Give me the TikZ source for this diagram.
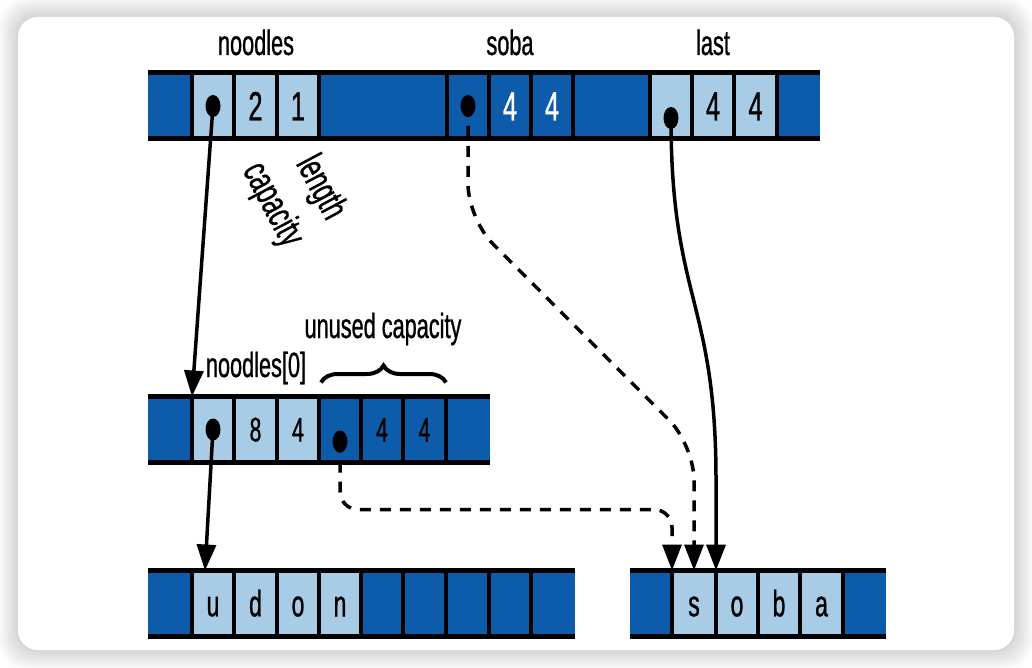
\documentclass[tikz,border=0pt]{standalone}
\usepackage{fontspec}
\setmainfont[FakeStretch=0.62,FakeBold=0.8]{Liberation Sans}
\usepackage{tikz}
\usetikzlibrary{arrows.meta,positioning,calc,shapes.geometric,decorations.pathreplacing}
\definecolor{dkblue}{RGB}{13,91,171}
\definecolor{ltblue}{RGB}{168,203,230}
\tikzset{
  cell/.style={minimum height=66pt, inner sep=0pt, outer sep=0pt, anchor=west},
  dark/.style={cell, fill=dkblue},
  darkw/.style={dark, text=white},
  light/.style={cell, fill=ltblue},
  ptr/.style={ellipse, fill=black, minimum width=15pt, minimum height=22pt, inner sep=0pt},
  rail/.style={line width=5pt},
  sep/.style={line width=3.5pt},
  arr/.style={-{Triangle[length=26pt,width=19pt]}, line width=3.5pt},
  darr/.style={arr, dash pattern=on 11pt off 9pt},
  lbl/.style={font=\fontsize{35}{35}\selectfont, inner sep=0pt},
  brc/.style={decorate, decoration={brace, amplitude=17pt}, line width=4pt}}

\begin{document}
\begin{tikzpicture}[x=1pt, y=-1pt]
  \useasboundingbox (0,0) rectangle (1032,668);
  % card with soft shadow
  \fill[white] (0,0) rectangle (1032,668);
  \foreach \i in {1,...,10}
    \fill[black, opacity=0.015, rounded corners=20+\i] (18-2*\i,17-2*\i) rectangle (1014+2*\i,650+2*\i);
  \fill[white, rounded corners=20] (18,17) rectangle (1014,650);

  % slice headers: noodles, soba, last
  \foreach \n/\x/\w/\s/\t in {a0/148/44/dark/, a1/192/42/light/, a2/234/43/light/2, a3/277/42/light/1,
      a4/319/128/dark/, a5/447/42/dark/, a6/489/42/darkw/4, a7/531/42/darkw/4, a8/573/77/dark/,
      a9/650/42/light/, a10/692/42/light/4, a11/734/43/light/4, a12/777/43/dark/}
    \node[\s, minimum width=\w, text height=29pt, font=\fontsize{41}{41}\selectfont] (\n) at (\x,106) {\t};
  \foreach \n in {a0,a1,a2,a3,a4,a5,a6,a7,a8,a9,a10,a11}
    \draw[sep] (\n.north east) -- (\n.south east);
  \draw[rail] (a0.north west) -- (a12.north east);
  \draw[rail] (a0.south west) -- (a12.south east);

  % noodles[0] header
  \foreach \n/\x/\w/\s/\t in {b0/148/44/dark/, b1/192/42/light/, b2/234/43/light/8, b3/277/42/light/4,
      b4/319/42/dark/, b5/361/42/dark/4, b6/403/43/dark/4, b7/446/44/dark/}
    \node[\s, minimum width=\w, text height=24pt, font=\fontsize{34}{34}\selectfont] (\n) at (\x,429.5) {\t};
  \foreach \n in {b0,b1,b2,b3,b4,b5,b6}
    \draw[sep] (\n.north east) -- (\n.south east);
  \draw[rail] (b0.north west) -- (b7.north east);
  \draw[rail] (b0.south west) -- (b7.south east);

  % backing arrays
  \foreach \n/\x/\w/\s/\t in {c0/148/44/dark/, c1/192/42/light/u, c2/234/43/light/d, c3/277/42/light/o,
      c4/319/42/light/n, c5/361/42/dark/, c6/403/43/dark/, c7/446/43/dark/, c8/489/42/dark/, c9/531/44/dark/}
    \node[\s, minimum width=\w, text height=26pt, font=\fontsize{37}{37}\selectfont] (\n) at (\x,603.5) {\t};
  \foreach \n in {c0,c1,c2,c3,c4,c5,c6,c7,c8}
    \draw[sep] (\n.north east) -- (\n.south east);
  \draw[rail] (c0.north west) -- (c9.north east);
  \draw[rail] (c0.south west) -- (c9.south east);

  \foreach \n/\x/\w/\s/\t in {d0/630/42/dark/, d1/672/44/light/s, d2/716/42/light/o, d3/758/42/light/b,
      d4/800/43/light/a, d5/843/43/dark/}
    \node[\s, minimum width=\w, text height=26pt, font=\fontsize{37}{37}\selectfont] (\n) at (\x,603.5) {\t};
  \foreach \n in {d0,d1,d2,d3,d4}
    \draw[sep] (\n.north east) -- (\n.south east);
  \draw[rail] (d0.north west) -- (d5.north east);
  \draw[rail] (d0.south west) -- (d5.south east);

  % labels
  \node[lbl, anchor=base] (noodles) at (256,55) {noodles};
  \node[lbl, anchor=base] (soba) at (510,55) {soba};
  \node[lbl, anchor=base] (last) at (713,55) {last};
  \node[lbl, rotate=-62, font=\fontsize{39}{39}\selectfont] (len) at (320,188) {length};
  \node[lbl, rotate=-62, font=\fontsize{39}{39}\selectfont] (cap) at (272,205) {capacity};
  \node[lbl, anchor=base] (first) at (256,377) {noodles[0]};
  \node[lbl, anchor=base] (unused) at (383,338) {unused capacity};
  \draw[brc] ($(b4.north west)+(2,-14)$) -- ($(b6.north east)+(0,-14)$);

  % pointers
  \node[ptr] (pn) at (a1) {};
  \node[ptr] (ps) at (a5) {};
  \node[ptr] (pl) at ($(a9)+(0,12)$) {};
  \node[ptr] (pm) at (b1) {};
  \node[ptr] (pu) at ($(b4)+(0,12)$) {};
  \coordinate (cu) at ($(c1.north west)+(13,0)$);

  \draw[arr] (pn.center) -- (b1.north west);
  \draw[arr] (pm.center) -- (cu);
  \draw[darr, rounded corners=18pt] (pu.center) -- ++(0,68) -| (d1.north west);
  \draw[darr, rounded corners=35pt] (ps.center) -- ++(0,113) -- ++(226,226) -- (d1.north);
  \draw[arr] (pl.center) .. controls (671,300) and (716,300) .. (716,480) -- (d2.north west);
\end{tikzpicture}
\end{document}
